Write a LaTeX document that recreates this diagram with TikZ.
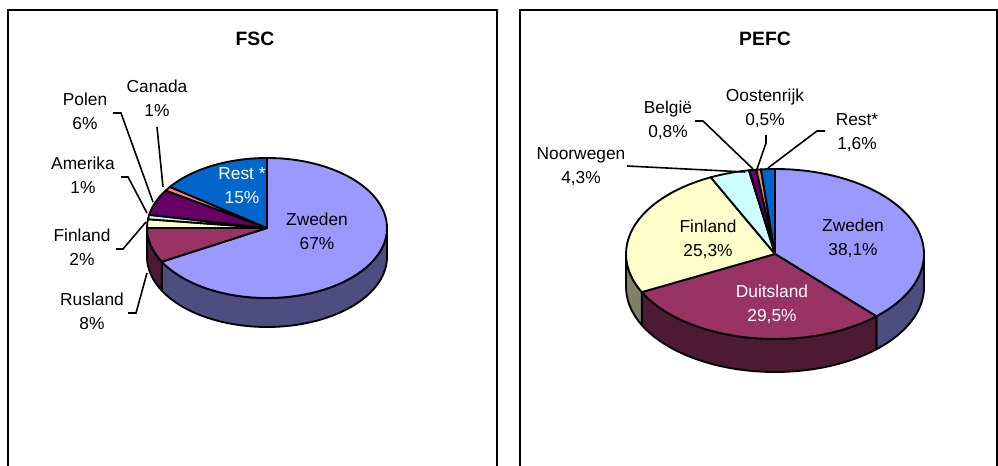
\documentclass[tikz,border=0pt]{standalone}
\usepackage{fontspec}
\setmainfont{Liberation Sans}
\usetikzlibrary{calc}

\definecolor{lila}{HTML}{9999FF}
\definecolor{lilazij}{HTML}{4D4D80}
\definecolor{pruim}{HTML}{993366}
\definecolor{pruimzij}{HTML}{4D1A33}
\definecolor{geel}{HTML}{FFFFCC}
\definecolor{geelzij}{HTML}{808066}
\definecolor{cyaan}{HTML}{CCFFFF}
\definecolor{paars}{HTML}{660066}
\definecolor{zalm}{HTML}{FF8080}
\definecolor{blauw}{HTML}{0066CC}

\begin{document}
\begin{tikzpicture}[x = 0.75pt, y = 0.75pt,
	slice/.style = {draw = black, line width = 1.4pt, line join = round},
	lbl/.style = {align = center, inner sep = 0pt, font = \fontsize{13}{18}\selectfont},
	leader/.style = {line width = 1.2pt},
	kop/.style = {font = \fontsize{14.5}{17}\selectfont\bfseries},
	kader/.style = {line width = 1.5pt}]
				\useasboundingbox (0, 0) rectangle (998, 466);
				
				%	kaders
				\draw[kader] (8, 0) -- (8, 456) -- (497, 456) -- (497, 0);
				\draw[kader] (520, 0) -- (520, 456) -- (997, 456) -- (997, 0);
				
				%	FSC
				\def\rxa{120}
				\def\rya{70}
				\def\dpa{29}
				\coordinate (fsc) at (267, 238);
				\node[kop] (fsctitel) at (255, 427) {FSC};
				
				%	zijkant
				\filldraw[slice, fill = lilazij] ($(fsc) + (xyz polar cs: angle = 0, x radius = \rxa, y radius = \rya)$) arc[start angle = 0, end angle = -151.2, x radius = \rxa, y radius = \rya] -- ++(0, -\dpa) arc[start angle = -151.2, end angle = 0, x radius = \rxa, y radius = \rya] -- cycle;
				\filldraw[slice, fill = pruimzij] ($(fsc) + (xyz polar cs: angle = -151.2, x radius = \rxa, y radius = \rya)$) arc[start angle = -151.2, end angle = -180, x radius = \rxa, y radius = \rya] -- ++(0, -\dpa) arc[start angle = -180, end angle = -151.2, x radius = \rxa, y radius = \rya] -- cycle;
				
				%	bovenkant
				\filldraw[slice, fill = lila] (fsc) -- ++(xyz polar cs: angle = 90, x radius = \rxa, y radius = \rya) arc[start angle = 90, end angle = -151.2, x radius = \rxa, y radius = \rya] -- cycle;
				\filldraw[slice, fill = pruim] (fsc) -- ++(xyz polar cs: angle = -151.2, x radius = \rxa, y radius = \rya) arc[start angle = -151.2, end angle = -180, x radius = \rxa, y radius = \rya] -- cycle;
				\filldraw[slice, fill = geel] (fsc) -- ++(xyz polar cs: angle = -180, x radius = \rxa, y radius = \rya) arc[start angle = -180, end angle = -187.2, x radius = \rxa, y radius = \rya] -- cycle;
				\filldraw[slice, fill = cyaan] (fsc) -- ++(xyz polar cs: angle = -187.2, x radius = \rxa, y radius = \rya) arc[start angle = -187.2, end angle = -190.8, x radius = \rxa, y radius = \rya] -- cycle;
				\filldraw[slice, fill = paars] (fsc) -- ++(xyz polar cs: angle = -190.8, x radius = \rxa, y radius = \rya) arc[start angle = -190.8, end angle = -212.4, x radius = \rxa, y radius = \rya] -- cycle;
				\filldraw[slice, fill = zalm] (fsc) -- ++(xyz polar cs: angle = -212.4, x radius = \rxa, y radius = \rya) arc[start angle = -212.4, end angle = -216, x radius = \rxa, y radius = \rya] -- cycle;
				\filldraw[slice, fill = blauw] (fsc) -- ++(xyz polar cs: angle = -216, x radius = \rxa, y radius = \rya) arc[start angle = -216, end angle = -270, x radius = \rxa, y radius = \rya] -- cycle;
				
				%	labels
				\node[lbl] (zwedena) at (317, 235) {Zweden\\67\%};
				\node[lbl, white] (resta) at (242, 280) {Rest *\\15\%};
				\node[lbl] (canada) at (157, 368) {Canada\\1\%};
				\node[lbl] (polen) at (85, 355) {Polen\\6\%};
				\node[lbl] (amerika) at (83, 291) {Amerika\\1\%};
				\node[lbl] (finlanda) at (82, 219) {Finland\\2\%};
				\node[lbl] (rusland) at (92, 155) {Rusland\\8\%};
				
				%	lijntjes
				\coordinate (canadaA) at (157, 339);
				\coordinate (canadaB) at (163, 279);
				\coordinate (polenA) at (113, 353);
				\coordinate (polenB) at (153, 264);
				\coordinate (amerikaA) at (121, 289);
				\coordinate (amerikaB) at (147, 253);
				\coordinate (finlandaA) at (116, 217);
				\coordinate (finlandaB) at (146, 244);
				\coordinate (ruslandA) at (128, 153);
				\coordinate (ruslandB) at (147, 193);
				\draw[leader] (canadaA) -- (canadaB);
				\draw[leader] (polenA) -- ++(8, 0) -- (polenB);
				\draw[leader] (amerikaA) -- ++(7, 0) -- (amerikaB);
				\draw[leader] (finlandaA) -- ++(7, 0) -- (finlandaB);
				\draw[leader] (ruslandA) -- ++(8, 0) -- (ruslandB);
				
				%	PEFC
				\def\rxb{149}
				\def\ryb{85}
				\def\dpb{33}
				\coordinate (pefc) at (775, 212);
				\node[kop] (pefctitel) at (765, 427) {PEFC};
				
				%	zijkant
				\filldraw[slice, fill = lilazij] ($(pefc) + (xyz polar cs: angle = 0, x radius = \rxb, y radius = \ryb)$) arc[start angle = 0, end angle = -47.16, x radius = \rxb, y radius = \ryb] -- ++(0, -\dpb) arc[start angle = -47.16, end angle = 0, x radius = \rxb, y radius = \ryb] -- cycle;
				\filldraw[slice, fill = pruimzij] ($(pefc) + (xyz polar cs: angle = -47.16, x radius = \rxb, y radius = \ryb)$) arc[start angle = -47.16, end angle = -153.36, x radius = \rxb, y radius = \ryb] -- ++(0, -\dpb) arc[start angle = -153.36, end angle = -47.16, x radius = \rxb, y radius = \ryb] -- cycle;
				\filldraw[slice, fill = geelzij] ($(pefc) + (xyz polar cs: angle = -153.36, x radius = \rxb, y radius = \ryb)$) arc[start angle = -153.36, end angle = -180, x radius = \rxb, y radius = \ryb] -- ++(0, -\dpb) arc[start angle = -180, end angle = -153.36, x radius = \rxb, y radius = \ryb] -- cycle;
				
				%	bovenkant
				\filldraw[slice, fill = lila] (pefc) -- ++(xyz polar cs: angle = 90, x radius = \rxb, y radius = \ryb) arc[start angle = 90, end angle = -47.16, x radius = \rxb, y radius = \ryb] -- cycle;
				\filldraw[slice, fill = pruim] (pefc) -- ++(xyz polar cs: angle = -47.16, x radius = \rxb, y radius = \ryb) arc[start angle = -47.16, end angle = -153.36, x radius = \rxb, y radius = \ryb] -- cycle;
				\filldraw[slice, fill = geel] (pefc) -- ++(xyz polar cs: angle = -153.36, x radius = \rxb, y radius = \ryb) arc[start angle = -153.36, end angle = -244.44, x radius = \rxb, y radius = \ryb] -- cycle;
				\filldraw[slice, fill = cyaan] (pefc) -- ++(xyz polar cs: angle = -244.44, x radius = \rxb, y radius = \ryb) arc[start angle = -244.44, end angle = -259.92, x radius = \rxb, y radius = \ryb] -- cycle;
				\filldraw[slice, fill = paars] (pefc) -- ++(xyz polar cs: angle = -259.92, x radius = \rxb, y radius = \ryb) arc[start angle = -259.92, end angle = -262.8, x radius = \rxb, y radius = \ryb] -- cycle;
				\filldraw[slice, fill = zalm] (pefc) -- ++(xyz polar cs: angle = -262.8, x radius = \rxb, y radius = \ryb) arc[start angle = -262.8, end angle = -264.6, x radius = \rxb, y radius = \ryb] -- cycle;
				\filldraw[slice, fill = blauw] (pefc) -- ++(xyz polar cs: angle = -264.6, x radius = \rxb, y radius = \ryb) arc[start angle = -264.6, end angle = -270, x radius = \rxb, y radius = \ryb] -- cycle;
				
				%	labels
				\node[lbl] (zwedenb) at (853, 228) {Zweden\\38,1\%};
				\node[lbl, white] (duitsland) at (772, 162) {Duitsland\\29,5\%};
				\node[lbl] (finlandb) at (708, 227) {Finland\\25,3\%};
				\node[lbl] (noorwegen) at (581, 299) {Noorwegen\\4,3\%};
				\node[lbl] (belgie) at (668, 346) {België\\0,8\%};
				\node[lbl] (oostenrijk) at (765, 358) {Oostenrijk\\0,5\%};
				\node[lbl] (restb) at (857, 333) {Rest*\\1,6\%};
				
				%	lijntjes
				\coordinate (noorwegenA) at (627, 300);
				\coordinate (noorwegenB) at (745, 294);
				\coordinate (belgieA) at (695, 345);
				\coordinate (belgieB) at (753, 297);
				\coordinate (oostenrijkA) at (766, 331);
				\coordinate (oostenrijkB) at (757, 297);
				\coordinate (restbA) at (825, 335);
				\coordinate (restbB) at (768, 298);
				\draw[leader] (noorwegenA) -- (noorwegenB);
				\draw[leader] (belgieA) -- ++(8, 0) -- (belgieB);
				\draw[leader] (oostenrijkA) -- ++(0, -8) -- (oostenrijkB);
				\draw[leader] (restbA) -- ++(-8, 0) -- (restbB);
\end{tikzpicture}
\end{document}
